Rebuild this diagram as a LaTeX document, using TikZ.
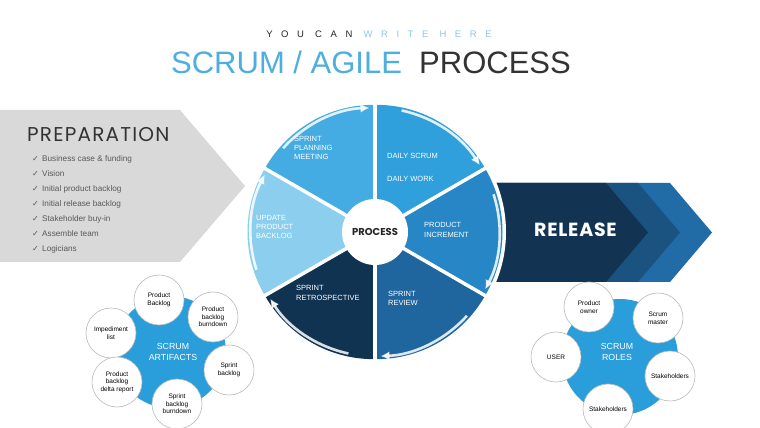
\documentclass[tikz,border=0pt]{standalone}
\usepackage{fontspec}
\setmainfont{Liberation Sans}
\newfontfamily\popp{Poppins}
\newfontfamily\dejavu{DejaVu Sans}
\usetikzlibrary{arrows.meta,calc}
\definecolor{prepgray}{RGB}{217,217,217}
\definecolor{cPlan}{RGB}{68,172,226}
\definecolor{cDaily}{RGB}{47,160,220}
\definecolor{cInc}{RGB}{38,134,198}
\definecolor{cRev}{RGB}{31,101,158}
\definecolor{cRetro}{RGB}{17,51,82}
\definecolor{cUpd}{RGB}{140,206,238}
\definecolor{relDark}{RGB}{18,52,82}
\definecolor{relMid}{RGB}{26,82,128}
\definecolor{relLight}{RGB}{33,108,166}
\definecolor{blobblue}{RGB}{42,158,218}
\definecolor{titleblue}{RGB}{78,174,222}
\definecolor{lightblue}{RGB}{140,200,230}
\definecolor{darktext}{RGB}{51,51,51}
\definecolor{listgray}{RGB}{89,89,89}
\tikzset{
  seglabel/.style={text=white, align=left, font=\fontsize{7.5}{9.3}\selectfont, inner sep=0},
  listitem/.style={anchor=west, text=listgray, font=\fontsize{8.2}{9}\selectfont, inner sep=0},
  checkmark/.style={text=listgray, font=\dejavu\fontsize{8}{8}\selectfont, inner sep=0},
  blob/.style={circle, fill=blobblue, inner sep=0},
  item/.style={circle, draw=gray!55, fill=white, line width=0.6pt, minimum size=50, inner sep=0, align=center, font=\fontsize{6.5}{7.6}\selectfont},
  bloblabel/.style={text=white, align=center, font=\fontsize{8.8}{11}\selectfont, inner sep=0},
  rim/.style={white, opacity=0.85, line width=2.6pt, -{Latex[length=9pt,width=9pt]}}
}
\begin{document}
\begin{tikzpicture}[x=1pt,y=1pt]
\useasboundingbox (0,0) rectangle (760,428);
\fill[white] (0,0) rectangle (760,428);

% titles
\node[anchor=base, inner sep=0, font=\fontsize{9.5}{10}\selectfont\addfontfeature{LetterSpace=90}] (sub) at (379,390)
  {\textcolor{black!85}{YOU CAN} \textcolor{lightblue}{WRITE HERE}};
\node[anchor=base, inner sep=0, font=\fontsize{31}{32}\selectfont] (title) at (371,354)
  {\textcolor{titleblue}{SCRUM / AGILE}\ \ \textcolor{darktext}{PROCESS}};

% preparation arrow
\fill[prepgray] (0,318) -- (180,318) -- (245,242) -- (180,166) -- (0,166) -- cycle;
\node[anchor=west, inner sep=0, text=darktext, font=\popp\fontsize{20}{21}\selectfont\addfontfeature{LetterSpace=6}] (prep) at (27,293) {PREPARATION};
\foreach \t [count=\i] in {Business case \& funding, Vision, Initial product backlog, Initial release backlog, Stakeholder buy-in, Assemble team, Logicians}{
  \node[checkmark] (chk\i) at (35.5,{284-15*\i}) {✓};
  \node[listitem] (li\i) at (42,{284-15*\i}) {\t};
}

% release arrow
\fill[relLight] (495,245) -- (670,245) -- (712,195.5) -- (670,146) -- (495,146) -- cycle;
\fill[relMid] (495,245) -- (638,245) -- (680,195.5) -- (638,146) -- (495,146) -- cycle;
\fill[relDark] (495,245) -- (606,245) -- (648,195.5) -- (606,146) -- (495,146) -- cycle;
\node[text=white, inner sep=0, font=\popp\bfseries\fontsize{19}{20}\selectfont\addfontfeature{LetterSpace=4}] (rel) at (575.5,198) {RELEASE};

% process wheel
\coordinate (C) at (375,196);
\fill[white] (C) circle (131);
\foreach \lo/\hi/\col in {30/90/cDaily, -30/30/cInc, -90/-30/cRev, 210/270/cRetro, 150/210/cUpd, 90/150/cPlan}{
  \fill[\col] ($(C)+({(\lo+\hi)/2}:2.5)$) -- ++(\lo:125) arc[start angle=\lo, end angle=\hi, radius=125] -- cycle;
}
\foreach \a in {90,30,-30,-90,210,150}{
  \draw[white, line width=3.5pt] (C) -- ++(\a:129);
}
\foreach \lo/\hi in {30/90, -30/30, -90/-30, 210/270, 150/210, 90/150}{
  \draw[rim] ($(C)+({(\lo+\hi)/2}:2.5)+({\hi-12}:122)$) arc[start angle={\hi-12}, end angle={\lo+2}, radius=122];
}
\node[circle, fill=white, minimum size=66, inner sep=0, text=black!85, font=\popp\bfseries\fontsize{10}{11}\selectfont] (proc) at (C) {PROCESS};

\node[seglabel, anchor=west] (plan) at (294,280) {SPRINT\\PLANNING\\MEETING};
\node[seglabel, anchor=west] (daily) at (387,272) {DAILY SCRUM};
\node[seglabel, anchor=west] (work) at (387,249) {DAILY WORK};
\node[seglabel, anchor=west] (upd) at (256,201) {UPDATE\\PRODUCT\\BACKLOG};
\node[seglabel, anchor=west] (inc) at (424,198) {PRODUCT\\INCREMENT};
\node[seglabel, anchor=west] (retro) at (296,135) {SPRINT\\RETROSPECTIVE};
\node[seglabel, anchor=west] (rev) at (388,129.5) {SPRINT\\REVIEW};

% scrum artifacts
\node[blob, minimum size=112] (art) at (170,76) {};
\node[bloblabel] (artl) at (173,76) {SCRUM\\ARTIFACTS};
\node[item] (a1) at (159,128) {Product\\Backlog};
\node[item] (a2) at (213,111) {Product\\backlog\\burndown};
\node[item] (a3) at (111,95) {Impediment\\list};
\node[item] (a4) at (229,58) {Sprint\\backlog};
\node[item] (a5) at (117,46) {Product\\backlog\\delta report};
\node[item] (a6) at (177,24) {Sprint\\backlog\\burndown};

% scrum roles
\node[blob, minimum size=116] (roles) at (620,71) {};
\node[bloblabel] (rolesl) at (617,76) {SCRUM\\ROLES};
\node[item] (r1) at (589,121) {Product\\owner};
\node[item] (r2) at (658,110) {Scrum\\master};
\node[item] (r3) at (556,71) {USER};
\node[item] (r4) at (670,52) {Stakeholders};
\node[item] (r5) at (608,19) {Stakeholders};
\end{tikzpicture}
\end{document}
